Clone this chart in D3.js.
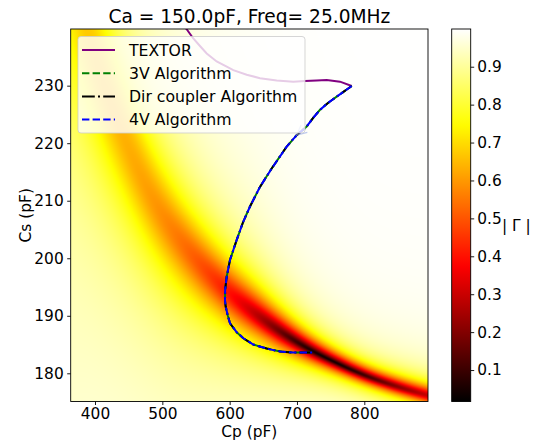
<!DOCTYPE html>
<html>
<head>
<meta charset="utf-8">
<script src="https://cdn.jsdelivr.net/npm/d3@7"></script>
<style>
  body { margin: 0; background: #fff; }
  svg text { font-family: "DejaVu Sans", sans-serif; fill: #000; }
</style>
</head>
<body>
<div id="chart"></div>
<script>
// valley of |Γ|, one node every 40 pF of Cp
const ridgeCp  = [360, 400, 440, 480, 520, 560, 600, 640, 680, 720, 760, 800, 840, 880, 920]
const ridgeCs  = [250, 233.5, 221.2, 210.8, 203.7, 198.2, 193.7, 190.1, 186.8, 184.0, 181.7, 179.6, 178.0, 176.6, 175.4]
const ridgeMin = [0.70, 0.66, 0.64, 0.61, 0.56, 0.49, 0.40, 0.28, 0.15, 0.04, 0.02, 0.10, 0.19, 0.27, 0.34]
// Cs distance from the valley to where |Γ| = 0.8, above and below
const halfUp   = [18, 15.5, 13.5, 11.5, 10.2, 9.2, 8.2, 7.2, 5.6, 4.2, 3.4, 3.0, 2.9, 2.9, 2.9]
const halfDown = [18, 15.5, 13.5, 12, 11, 9.5, 8.0, 6.6, 5.2, 3.9, 3.1, 2.7, 2.6, 2.6, 2.6]

const textorCp = [530, 536.2, 546.0, 555.9, 565.9, 580.7, 595.6, 605.4, 625.3, 645.1, 669.9, 694.5, 711.9, 729.3, 744.1, 763.9, 781.3]
const textorCs = [240.7, 239.8, 238.2, 236.9, 235.6, 234.2, 233.3, 232.7, 231.9, 231.3, 230.9, 230.7, 230.8, 230.9, 231.0, 230.7, 229.95]

const algCp = [781.3, 770, 759.0, 746, 734.2, 724, 714.4, 699.6, 684.7, 662.4, 645, 630.2, 620, 610.5, 600.5, 595.6, 593.3, 593.1, 594.1, 597.3, 600.5, 610, 620.3, 635, 655.0, 675, 694.5, 710, 722.5]
const algCs = [229.95, 229.0, 228.1, 227.0, 225.8, 224.4, 222.9, 221.4, 219.4, 215.6, 212.4, 209.0, 206.3, 203.2, 199.7, 196.8, 194.5, 192.7, 191.6, 190.0, 188.7, 187.2, 186.1, 185.0, 184.3, 183.8, 183.6, 183.6, 183.6]

const xTicks = [400, 500, 600, 700, 800]
const yTicks = [180, 190, 200, 210, 220, 230]
const cTicks = [0.1, 0.2, 0.3, 0.4, 0.5, 0.6, 0.7, 0.8, 0.9]
const gMin = 0.017, gMax = 0.9995

const W = 552, H = 443
const L = 70.7, R = 428, T = 29, B = 401.5

const x = d3.scaleLinear().domain([363.9, 894.6]).range([L, R])
const y = d3.scaleLinear().domain([175.1, 239.85]).range([B, T])
const c = d3.scaleLinear().domain([gMin, gMax]).range([B, T])

// matplotlib "hot"
function hot (v) {
  const t = Math.max(0, Math.min(1, (v - gMin) / (gMax - gMin)))
  const cl = a => Math.max(0, Math.min(1, a))
  return [cl(t / 0.365079), cl((t - 0.365079) / 0.380953), cl((t - 0.746032) / 0.253968)]
}

const ridgeT = cp => Math.max(0, Math.min(1, (cp - ridgeCp[0]) / (ridgeCp[ridgeCp.length - 1] - ridgeCp[0])))
const fCs = d3.interpolateBasis(ridgeCs)
const fMin = d3.interpolateBasis(ridgeMin)
const fUp = d3.interpolateBasis(halfUp)
const fDn = d3.interpolateBasis(halfDown)

// quadratic near the valley, slower (power q) far from it
const shape = (u, q) => u * u * Math.pow(1 + u * u, (q - 2) / 2) / Math.pow(2, (q - 2) / 2)

function gamma (cp, cs) {
  const t = ridgeT(cp)
  const c0 = fCs(t)
  const m = Math.max(0, fMin(t))
  const above = cs > c0
  const h = above ? fUp(t) : fDn(t)
  const q = above ? 1.7 : 1.5
  const k = Math.max(0.05, (1 - m * m) / (1 - 0.64) - 1)
  const u = Math.abs(cs - c0) / h
  return Math.sqrt(1 - (1 - m * m) / (1 + k * shape(u, q)))
}

const svg = d3.select('#chart').append('svg')
  .attr('width', W).attr('height', H)

// heat map
const cw = Math.round(R - L), ch = Math.round(B - T)
const canvas = document.createElement('canvas')
canvas.width = cw; canvas.height = ch
const ctx = canvas.getContext('2d')
const img = ctx.createImageData(cw, ch)
for (let j = 0; j < ch; j++) {
  const cs = y.invert(T + (j + 0.5) * (B - T) / ch)
  for (let i = 0; i < cw; i++) {
    const cp = x.invert(L + (i + 0.5) * (R - L) / cw)
    const col = hot(gamma(cp, cs))
    const o = (j * cw + i) * 4
    img.data[o] = col[0] * 255
    img.data[o + 1] = col[1] * 255
    img.data[o + 2] = col[2] * 255
    img.data[o + 3] = 255
  }
}
ctx.putImageData(img, 0, 0)

svg.append('image')
  .attr('x', L).attr('y', T)
  .attr('width', R - L).attr('height', B - T)
  .attr('preserveAspectRatio', 'none')
  .attr('href', canvas.toDataURL())

svg.append('clipPath').attr('id', 'clip')
  .append('rect').attr('x', L).attr('y', T).attr('width', R - L).attr('height', B - T)

const line = d3.line().x(d => x(d[0])).y(d => y(d[1]))
const textor = textorCp.map((v, i) => [v, textorCs[i]])
const alg = algCp.map((v, i) => [v, algCs[i]])

const curves = svg.append('g').attr('clip-path', 'url(#clip)')
curves.append('path').datum(textor).attr('d', line)
  .attr('fill', 'none').attr('stroke', '#800080').attr('stroke-width', 2)
curves.append('path').datum(alg).attr('d', line)
  .attr('fill', 'none').attr('stroke', '#008000').attr('stroke-width', 2)
  .attr('stroke-dasharray', '7.4,3.2').attr('stroke-dashoffset', 4)
curves.append('path').datum(alg).attr('d', line)
  .attr('fill', 'none').attr('stroke', '#000').attr('stroke-width', 2)
  .attr('stroke-dasharray', '12.8,3.2,2,3.2')
curves.append('path').datum(alg).attr('d', line)
  .attr('fill', 'none').attr('stroke', '#0000ff').attr('stroke-width', 2)
  .attr('stroke-dasharray', '7.4,3.2')

// faint arrow head on the algorithm path
const tip = [x(699.6), y(221.4)], back = [x(714.4), y(222.9)]
const ang = Math.atan2(back[1] - tip[1], back[0] - tip[0])
const arm = a => [tip[0] + 11 * Math.cos(ang + a), tip[1] + 11 * Math.sin(ang + a)]
curves.append('path')
  .attr('d', d3.line()([arm(0.45), tip, arm(-0.45)]))
  .attr('fill', 'none').attr('stroke', '#8fa3e8').attr('stroke-width', 1.3).attr('opacity', 0.6)

// axes
const xAxis = svg.append('g').attr('transform', `translate(0,${B})`)
  .call(d3.axisBottom(x).tickValues(xTicks).tickSize(3.5).tickPadding(3.5).tickSizeOuter(0))
const yAxis = svg.append('g').attr('transform', `translate(${L},0)`)
  .call(d3.axisLeft(y).tickValues(yTicks).tickSize(3.5).tickPadding(3.5).tickSizeOuter(0))
;[xAxis, yAxis].forEach(g => {
  g.select('.domain').remove()
  g.selectAll('text').attr('font-size', 15.4).attr('font-family', 'DejaVu Sans')
  g.selectAll('line').attr('stroke', '#000').attr('stroke-width', 0.9)
})

svg.append('rect').attr('x', L).attr('y', T).attr('width', R - L).attr('height', B - T)
  .attr('fill', 'none').attr('stroke', '#000').attr('stroke-width', 0.9)

// colorbar
const cbL = 451.7, cbW = 19
const grad = svg.append('defs').append('linearGradient').attr('id', 'hotgrad')
  .attr('x1', 0).attr('y1', 1).attr('x2', 0).attr('y2', 0)
d3.range(0, 1.0001, 0.02).forEach(s => {
  const col = hot(gMin + s * (gMax - gMin))
  grad.append('stop').attr('offset', s)
    .attr('stop-color', d3.rgb(col[0] * 255, col[1] * 255, col[2] * 255))
})
svg.append('rect').attr('x', cbL).attr('y', T).attr('width', cbW).attr('height', B - T)
  .attr('fill', 'url(#hotgrad)').attr('stroke', '#000').attr('stroke-width', 0.9)
const cAxis = svg.append('g').attr('transform', `translate(${cbL + cbW},0)`)
  .call(d3.axisRight(c).tickValues(cTicks).tickFormat(d3.format('.1f')).tickSize(3.5).tickPadding(3).tickSizeOuter(0))
cAxis.select('.domain').remove()
cAxis.selectAll('text').attr('font-size', 15.4).attr('font-family', 'DejaVu Sans')
cAxis.selectAll('line').attr('stroke', '#000').attr('stroke-width', 0.9)

svg.append('text').attr('x', 502).attr('y', 231).attr('font-size', 15.4).text('| Γ |')

// titles
svg.append('text').attr('x', (L + R) / 2).attr('y', 23).attr('text-anchor', 'middle')
  .attr('font-size', 18.6).text('Ca = 150.0pF, Freq= 25.0MHz')
svg.append('text').attr('x', (L + R) / 2).attr('y', 437).attr('text-anchor', 'middle')
  .attr('font-size', 15.4).text('Cp (pF)')
svg.append('text').attr('transform', `translate(31,${(T + B) / 2}) rotate(-90)`)
  .attr('text-anchor', 'middle').attr('font-size', 15.4).text('Cs (pF)')

// legend
const legendItems = [
  { name: 'TEXTOR', color: '#800080', dash: null },
  { name: '3V Algorithm', color: '#008000', dash: '7.4,3.2' },
  { name: 'Dir coupler Algorithm', color: '#000', dash: '12.8,3.2,2,3.2' },
  { name: '4V Algorithm', color: '#0000ff', dash: '7.4,3.2' }
]
const lg = svg.append('g')
lg.append('rect').attr('x', 78).attr('y', 36.5).attr('width', 227).attr('height', 96.5)
  .attr('rx', 3).attr('fill', '#fff').attr('fill-opacity', 0.8)
  .attr('stroke', '#ccc').attr('stroke-opacity', 0.8)
legendItems.forEach((d, i) => {
  const cy = 50 + i * 23.2
  lg.append('line').attr('x1', 82).attr('x2', 115).attr('y1', cy).attr('y2', cy)
    .attr('stroke', d.color).attr('stroke-width', 2)
    .attr('stroke-dasharray', d.dash)
  lg.append('text').attr('x', 129).attr('y', cy + 5.6).attr('font-size', 15.7).text(d.name)
})
</script>
</body>
</html>
